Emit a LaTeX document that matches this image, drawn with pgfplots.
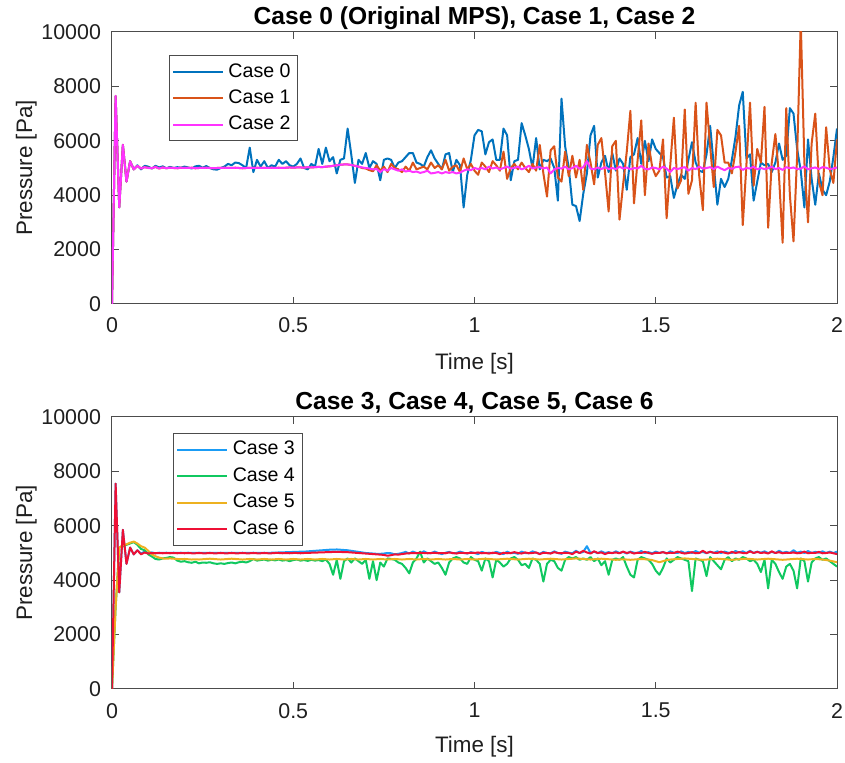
\documentclass[border=0pt]{standalone}
\usepackage{fontspec}
\setmainfont{Liberation Sans}
\usepackage{pgfplots}
\usepackage{pgfplotstable}
\pgfplotsset{compat=1.18}
\definecolor{cA}{HTML}{0072BD}
\definecolor{cB}{HTML}{D95319}
\definecolor{cC}{HTML}{FF33FF}
\definecolor{cD}{HTML}{1A9CF5}
\definecolor{cE}{HTML}{10C860}
\definecolor{cF}{HTML}{EDB120}
\definecolor{cG}{HTML}{EE1035}

\pgfplotstableread{
t c0 c1 c2
0.00 0 0 0
0.01 7650 7650 7650
0.02 3550 3550 3550
0.03 5850 5850 5850
0.04 4500 4500 4500
0.05 5250 5250 5250
0.06 4950 4950 4950
0.07 5100 5080 5080
0.08 4950 4980 4980
0.09 5080 5030 5030
0.10 5050 5010 5000
0.11 4980 4990 4990
0.12 5080 5040 5040
0.13 5020 4980 4980
0.14 5060 5020 5020
0.15 4990 4990 4990
0.16 5040 5010 5010
0.17 5000 5000 5000
0.18 5030 4990 4990
0.19 5010 5010 5010
0.20 5050 5000 5000
0.21 5020 5000 5000
0.22 4980 5010 5010
0.23 5060 4990 4990
0.24 5080 5000 5000
0.25 5010 5000 5000
0.26 5070 5010 5010
0.27 5000 5000 5000
0.28 4950 4990 4990
0.29 4940 5000 5000
0.30 5000 5000 5000
0.31 5050 5010 5010
0.32 5150 5000 5000
0.33 5100 5000 5000
0.34 5200 5010 5010
0.35 5180 5000 5000
0.36 5100 4990 4990
0.37 5000 5000 5000
0.38 5750 5000 5000
0.39 4850 5000 5000
0.40 5300 5010 5010
0.41 5050 5000 5000
0.42 5250 5000 5000
0.43 5000 5000 5000
0.44 5100 5010 5010
0.45 5050 5000 5000
0.46 5300 5010 5010
0.47 5150 5000 5000
0.48 5250 5010 5010
0.49 5100 5020 5020
0.50 5050 5010 5010
0.51 5150 5020 5020
0.52 5350 5020 5020
0.53 5000 5010 5010
0.54 4950 5030 5030
0.55 5150 5020 5020
0.56 5050 5030 5030
0.57 5700 5040 5040
0.58 5150 5030 5030
0.59 5750 5050 5050
0.60 5250 5060 5060
0.61 5400 5080 5080
0.62 4800 5100 5100
0.63 5300 5120 5120
0.64 5350 5130 5130
0.65 6450 5130 5130
0.66 5500 5110 5110
0.67 4450 5080 5080
0.68 5300 5050 5050
0.69 5150 5000 5020
0.70 5550 4980 5000
0.71 5000 4920 4980
0.72 5250 4880 4950
0.73 5150 5100 4960
0.74 4550 4900 4850
0.75 5300 5050 4960
0.76 5350 4850 4900
0.77 5300 5150 5000
0.78 5000 5000 4950
0.79 5200 4950 4900
0.80 5250 4850 4950
0.81 5400 5050 4870
0.82 5550 4900 4900
0.83 5550 5200 4850
0.84 5200 4950 4870
0.85 5150 5000 4820
0.86 5050 5050 4850
0.87 5400 4950 4900
0.88 5650 5200 4800
0.89 5350 5000 4820
0.90 5150 5100 4850
0.91 4950 4950 4800
0.92 5500 5300 4850
0.93 5550 4900 4820
0.94 4850 5050 4850
0.95 5300 5100 4800
0.96 5100 4850 4830
0.97 3550 5350 4900
0.98 4750 4950 4950
0.99 5300 5150 4920
1.00 6200 4900 5000
1.01 6400 4750 4960
1.02 6350 5200 5000
1.03 5500 5050 4950
1.04 5950 4850 5050
1.05 6050 5250 4980
1.06 5300 5100 5020
1.07 5300 4900 4950
1.08 6450 5600 5000
1.09 6200 4600 5050
1.10 4550 5000 4980
1.11 5250 5150 5000
1.12 5300 4950 5050
1.13 6650 5200 4950
1.14 6200 5000 5000
1.15 5700 4850 5080
1.16 5000 5150 4980
1.17 6100 4900 5020
1.18 4950 5850 5030
1.19 5300 4800 4980
1.20 5250 3950 5020
1.21 5350 5650 4800
1.22 5000 5800 4950
1.23 3800 4650 5000
1.24 7550 4500 4980
1.25 5800 5600 5050
1.26 5000 4700 4950
1.27 3650 5450 5000
1.28 3600 4650 5080
1.29 3050 5300 4970
1.30 4050 4200 5030
1.31 4800 5850 5250
1.32 6200 5200 4980
1.33 6550 4400 4950
1.34 4650 5850 5020
1.35 5200 6100 4960
1.36 5450 4850 5030
1.37 4850 3400 4960
1.38 5550 5800 5000
1.39 4900 6000 4960
1.40 5350 3100 5050
1.41 5150 4400 4980
1.42 4200 5600 5020
1.43 5400 7100 4950
1.44 5500 3700 5000
1.45 6100 5300 4980
1.46 5150 6750 5080
1.47 6000 4000 4970
1.48 5250 5900 4950
1.49 6050 5050 5020
1.50 5700 4700 5000
1.51 5550 4900 4950
1.52 5400 6050 5050
1.53 4650 3150 4980
1.54 4700 5100 4850
1.55 3900 6850 5000
1.56 4400 4250 4960
1.57 4750 4550 5000
1.58 4600 7150 5030
1.59 5300 4050 4900
1.60 5950 4550 5000
1.61 5200 7400 4960
1.62 4900 4700 5050
1.63 4850 3450 4980
1.64 5500 7400 5000
1.65 6550 5800 5030
1.66 5100 4300 4960
1.67 3650 6400 5050
1.68 4600 6200 4980
1.69 4300 5200 4920
1.70 4600 5200 5000
1.71 5300 4800 4970
1.72 6150 5600 5030
1.73 7300 6550 5050
1.74 7800 2900 4930
1.75 5350 5100 5000
1.76 5500 7400 4980
1.77 3800 4350 5050
1.78 4500 5700 4950
1.79 5200 5200 5000
1.80 5100 7250 4960
1.81 5150 2800 4990
1.82 4850 5200 5050
1.83 5200 6250 4960
1.84 5900 4700 5000
1.85 5300 2250 4930
1.86 5450 7200 5030
1.87 7200 4000 4990
1.88 7000 2300 5020
1.89 5700 5450 4960
1.90 4900 10400 4980
1.91 3550 5200 5060
1.92 6050 3000 4950
1.93 4600 5900 4990
1.94 3650 7000 5020
1.95 4800 4500 4960
1.96 4200 4000 5030
1.97 4000 6500 5010
1.98 4500 4950 4960
1.99 5400 4450 4980
2.00 6450 6050 5020
}\topdata

\pgfplotstableread{
t c3 c4 c5 c6
0.00 0 0 0 0
0.01 7550 3000 3000 7550
0.02 3550 5200 5200 3550
0.03 5850 5250 5280 5850
0.04 4600 5300 5320 4600
0.05 5200 5350 5380 5200
0.06 4950 5400 5420 4950
0.07 5100 5300 5350 5100
0.08 4980 5150 5250 4950
0.09 5050 5100 5200 5020
0.10 5000 4950 5080 4980
0.11 5020 4870 4950 5000
0.12 4990 4780 4880 4990
0.13 5010 4760 4830 5000
0.14 5000 4800 4800 4990
0.15 5010 4820 4790 5000
0.16 5000 4850 4800 4990
0.17 5010 4830 4790 5000
0.18 5000 4720 4780 4990
0.19 5010 4680 4770 5000
0.20 5000 4700 4780 4990
0.21 5010 4660 4770 5000
0.22 5000 4640 4760 4990
0.23 5000 4680 4770 4990
0.24 5010 4620 4760 5000
0.25 5000 4650 4770 4990
0.26 5000 4640 4780 4990
0.27 5010 4660 4790 5000
0.28 5000 4620 4780 4990
0.29 5000 4600 4770 4990
0.30 5010 4620 4760 5000
0.31 5000 4600 4770 4990
0.32 5000 4630 4780 4990
0.33 5010 4650 4790 5000
0.34 5000 4620 4780 4990
0.35 5000 4660 4770 4990
0.36 5010 4680 4760 5000
0.37 5000 4650 4770 4990
0.38 5000 4700 4780 4990
0.39 5010 4780 4770 5000
0.40 5000 4720 4760 4990
0.41 5000 4740 4770 4990
0.42 5010 4760 4780 5000
0.43 5000 4720 4770 4990
0.44 5010 4750 4760 4990
0.45 5010 4730 4770 5000
0.46 5020 4760 4780 5000
0.47 5020 4720 4770 4990
0.48 5030 4740 4760 5000
0.49 5030 4700 4770 4990
0.50 5040 4740 4780 5000
0.51 5040 4760 4770 5000
0.52 5050 4720 4760 4990
0.53 5050 4740 4770 5000
0.54 5060 4710 4780 5000
0.55 5070 4750 4770 5010
0.56 5080 4720 4760 5010
0.57 5090 4740 4770 5020
0.58 5100 4700 4780 5020
0.59 5110 4760 4770 5030
0.60 5120 4600 4760 5030
0.61 5120 4200 4770 5040
0.62 5130 4750 4780 5040
0.63 5120 4050 4770 5040
0.64 5110 4700 4760 5030
0.65 5100 4800 4770 5030
0.66 5080 4650 4780 5020
0.67 5060 4800 4770 5010
0.68 5040 4700 4760 5000
0.69 5020 4600 4770 4990
0.70 5000 4750 4780 4980
0.71 4990 4050 4770 4970
0.72 4980 4700 4760 4960
0.73 4970 4000 4770 4950
0.74 4970 4650 4780 4940
0.75 4980 4500 4770 4930
0.76 5000 4800 4760 4900
0.77 4990 4780 4770 4920
0.78 4950 4750 4780 4950
0.79 4970 4650 4770 4940
0.80 5000 4600 4760 4960
0.81 5040 4450 4770 4980
0.82 4980 4250 4780 4990
0.83 5050 4650 4770 5000
0.84 5000 4800 4760 4990
0.85 4990 5050 4770 5010
0.86 5060 4650 4780 5000
0.87 5000 4800 4770 4990
0.88 4990 4700 4760 5000
0.89 5050 4600 4770 5010
0.90 5000 4650 4780 4990
0.91 4960 4450 4770 5000
0.92 5010 4200 4760 4990
0.93 5040 4650 4770 5020
0.94 4990 4800 4780 5000
0.95 5000 4850 4770 4980
0.96 5050 4800 4760 5010
0.97 5010 4650 4770 5000
0.98 4980 4600 4780 4990
0.99 5030 4850 4770 5010
1.00 5000 4750 4760 5000
1.01 4960 4700 4770 5020
1.02 5040 4350 4780 4990
1.03 5000 4800 4790 5000
1.04 5010 4700 4780 4980
1.05 4990 4100 4770 5010
1.06 5040 4750 4760 5000
1.07 5000 4650 4770 4960
1.08 4960 4500 4780 5010
1.09 5050 4600 4790 4990
1.10 4990 4800 4780 5000
1.11 5010 4850 4770 5030
1.12 4970 4750 4760 5000
1.13 5050 4550 4770 4980
1.14 5000 4600 4780 5020
1.15 4990 4450 4790 4990
1.16 5060 4800 4780 5000
1.17 5010 4750 4770 5020
1.18 4970 4600 4760 4960
1.19 5040 3950 4770 5010
1.20 5000 4600 4780 5000
1.21 4990 4750 4790 4980
1.22 5060 4700 4780 5030
1.23 5000 4450 4770 5000
1.24 4970 4350 4760 4990
1.25 5050 4750 4770 5010
1.26 5010 4850 4780 5000
1.27 4990 4800 4790 4960
1.28 5080 4850 4800 5050
1.29 5000 4750 4790 5000
1.30 5040 4800 4780 5080
1.31 5250 4750 4770 5020
1.32 5000 4850 4760 4980
1.33 5050 4700 4770 5060
1.34 4990 4800 4780 5000
1.35 5060 4550 4790 5020
1.36 5000 4700 4780 4960
1.37 5030 4200 4770 5010
1.38 4990 4750 4760 5000
1.39 5060 4800 4750 5020
1.40 5000 4750 4760 4990
1.41 5040 4850 4770 5050
1.42 4980 4500 4760 5000
1.43 5050 4200 4750 5030
1.44 5010 4100 4760 4980
1.45 5000 4750 4770 5010
1.46 5070 4850 4780 5000
1.47 5000 4800 4770 5040
1.48 5030 4750 4760 5000
1.49 4990 4600 4740 4970
1.50 5050 4350 4700 5010
1.51 5000 4200 4660 5000
1.52 5040 4450 4700 5030
1.53 4980 4800 4740 4990
1.54 5060 4650 4760 5010
1.55 5010 4750 4770 5000
1.56 5000 4850 4780 5050
1.57 5060 4800 4790 5010
1.58 5000 4750 4800 4980
1.59 5040 4700 4790 5000
1.60 5000 3600 4780 5030
1.61 5070 4800 4770 4990
1.62 5010 4750 4760 5000
1.63 5040 4700 4750 5080
1.64 4990 4150 4760 5000
1.65 5050 4850 4770 5040
1.66 5000 4700 4780 5010
1.67 5060 4550 4790 5000
1.68 5000 4400 4780 5050
1.69 5050 4750 4770 5010
1.70 5010 4850 4760 4980
1.71 5000 4700 4750 5040
1.72 5070 4800 4760 5000
1.73 5020 4750 4770 5030
1.74 5060 4850 4780 5000
1.75 5000 4800 4790 4990
1.76 5080 4700 4780 5060
1.77 5000 4750 4770 5000
1.78 5050 4600 4760 5040
1.79 5010 4300 4770 5000
1.80 5060 4750 4780 5020
1.81 5000 3700 4790 4980
1.82 5040 4750 4780 5060
1.83 5000 4600 4770 5000
1.84 5080 4300 4760 5030
1.85 5010 4050 4750 4990
1.86 5040 4500 4760 5010
1.87 5000 4600 4770 5000
1.88 5100 4350 4780 5020
1.89 5010 3700 4790 4990
1.90 5050 4800 4780 5000
1.91 5000 4700 4770 5050
1.92 5070 3950 4760 4990
1.93 5000 4650 4770 5010
1.94 5040 4800 4780 5000
1.95 5010 4850 4770 5040
1.96 5060 4750 4760 4990
1.97 5000 4800 4740 5000
1.98 5050 4700 4720 5020
1.99 5000 4600 4690 4990
2.00 5050 4500 4660 4960
}\botdata

\pgfplotsset{
  matlab/.style={
    width=362.5pt, height=136pt, scale only axis,
    xmin=0, xmax=2, ymin=0, ymax=10000,
    xtick={0,0.5,1,1.5,2}, xticklabels={0,0.5,1,1.5,2},
    ytick={0,2000,4000,6000,8000,10000},
    scaled y ticks=false, scaled x ticks=false,
    /pgf/number format/assume math mode=true,
    /pgf/number format/1000 sep={},
    tick align=inside, major tick length=3.5pt,
    axis line style={black!70, line width=0.5pt},
    every tick/.style={black!70, line width=0.5pt},
    xticklabel style={font=\fontsize{10.7}{12}\selectfont, text=black!88, yshift=-3.5pt},
    yticklabel style={font=\fontsize{10.7}{12}\selectfont, text=black!88, xshift=-2pt},
    xlabel={Time [s]}, ylabel={Pressure [Pa]},
    xlabel style={font=\fontsize{11.2}{13}\selectfont, text=black!88, at={(axis description cs:0.5,0)}, anchor=base},
    ylabel style={font=\fontsize{11.2}{13}\selectfont, text=black!88, at={(axis description cs:-0.11,0.5)}, anchor=base, rotate=0},
    every axis title shift=0pt,
    title style={font=\bfseries\fontsize{12.3}{14}\selectfont, at={(axis description cs:0.5,1)}, anchor=base, yshift=3.5pt},
    legend cell align=left,
    legend style={font=\fontsize{9.8}{11}\selectfont, draw=black!70, line width=0.5pt, anchor=north west, inner sep=1.5pt, row sep=0pt,
      nodes={inner sep=2.2pt, text height=7pt, text depth=1.8pt}},
    legend image code/.code={\draw[#1, line width=1pt] (0pt,0pt) -- (25pt,0pt);},
    every axis plot/.append style={line width=1pt, line join=round},
  }
}

\begin{document}
\begin{tikzpicture}
\path[use as bounding box] (-56pt,-229.5pt) rectangle (366.5pt,152pt);
\begin{axis}[matlab, at={(0,0)}, anchor=south west,
  title={Case 0 (Original MPS), Case 1, Case 2},
  xlabel style={yshift=-33pt},
  legend style={at={(axis description cs:0.078,0.915)}}]
\addplot[cA] table[x=t, y=c0] {\topdata};
\addplot[cB] table[x=t, y=c1] {\topdata};
\addplot[cC] table[x=t, y=c2] {\topdata};
\legend{Case 0, Case 1, Case 2}
\end{axis}
\begin{axis}[matlab, at={(0,-56.5pt)}, anchor=north west,
  title={Case 3, Case 4, Case 5, Case 6},
  xlabel style={yshift=-31.5pt},
  legend style={at={(axis description cs:0.084,0.941)}}]
\addplot[cD] table[x=t, y=c3] {\botdata};
\addplot[cE] table[x=t, y=c4] {\botdata};
\addplot[cF] table[x=t, y=c5] {\botdata};
\addplot[cG] table[x=t, y=c6] {\botdata};
\legend{Case 3, Case 4, Case 5, Case 6}
\end{axis}
\end{tikzpicture}
\end{document}
